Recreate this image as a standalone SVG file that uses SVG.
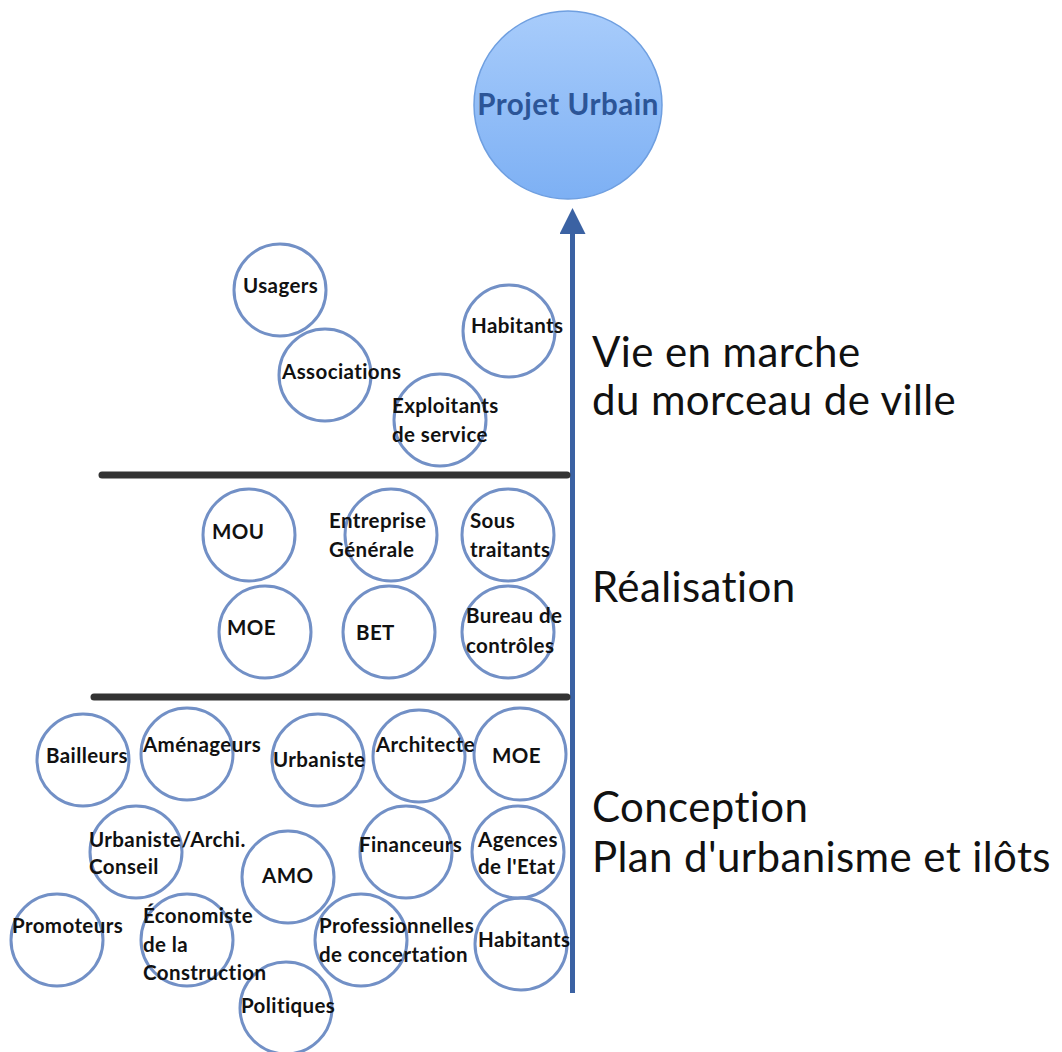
<svg xmlns="http://www.w3.org/2000/svg" width="1062" height="1052" viewBox="0 0 1062 1052">
<style>
text{font-variant-ligatures:none;font-feature-settings:"liga" 0,"clig" 0}
.c{fill:none;stroke:#7290c6;stroke-width:3}
.t{font-family:Lato,"Open Sans","Liberation Sans",sans-serif;font-weight:bold;font-size:20.5px;letter-spacing:0.4px;fill:#111}
.ph{font-family:Lato,"Open Sans","Liberation Sans",sans-serif;font-size:42px;letter-spacing:0.4px;fill:#111}
.sep{stroke:#333;stroke-width:7;stroke-linecap:round}
</style>
<defs>
<linearGradient id="g" x1="0" y1="0" x2="0" y2="1">
<stop offset="0" stop-color="#a8ccfb"/>
<stop offset="1" stop-color="#7db0f4"/>
</linearGradient>
<marker id="ah" markerWidth="26" markerHeight="26" refX="13" refY="13" viewBox="0 0 26 26" markerUnits="userSpaceOnUse" orient="auto">
<path d="M0,0 L26,13 L0,26 Z" fill="#3b62a3"/>
</marker>
</defs>
<rect width="1062" height="1052" fill="#fff"/>
<g id="connectors">
<line x1="572.5" y1="993" x2="572.5" y2="221" stroke="#3b62a3" stroke-width="5" marker-end="url(#ah)"/>
<line class="sep" x1="102" y1="475" x2="567" y2="475"/>
<line class="sep" x1="94" y1="697" x2="567" y2="697"/>
</g>
<g id="projet-urbain">
<circle cx="568" cy="105" r="94" fill="url(#g)" stroke="#6f9fe0" stroke-width="1.5"/>
<text x="568" y="115" text-anchor="middle" style="font-family:Lato,'Open Sans','Liberation Sans',sans-serif;font-weight:bold;font-size:29.5px;letter-spacing:0.5px;fill:#2c5597">Projet Urbain</text>
</g>
<g id="phase-vie"><text class="ph" x="592" y="367">Vie en marche</text><text class="ph" x="592" y="415">du morceau de ville</text></g>
<g id="phase-realisation"><text class="ph" x="592" y="602">Réalisation</text></g>
<g id="phase-conception"><text class="ph" x="592" y="822">Conception</text><text class="ph" x="592" y="872">Plan d'urbanisme et ilôts</text></g>

<g id="usagers"><circle class="c" cx="280" cy="290" r="46"/><text class="t" x="243" y="293">Usagers</text></g>
<g id="exploitants"><circle class="c" cx="440" cy="420" r="46"/><text class="t" x="392" y="413">Exploitants</text><text class="t" x="392" y="442">de service</text></g>
<g id="associations"><circle class="c" cx="325" cy="375" r="46"/><text class="t" x="282" y="379">Associations</text></g>
<g id="habitants-vie"><circle class="c" cx="509" cy="331" r="46"/><text class="t" x="471" y="333">Habitants</text></g>

<g id="mou"><circle class="c" cx="249" cy="535" r="46"/><text class="t" x="212" y="539">MOU</text></g>
<g id="entreprise"><circle class="c" cx="391" cy="535" r="46"/><text class="t" x="329" y="528">Entreprise</text><text class="t" x="329" y="557">Générale</text></g>
<g id="sous-traitants"><circle class="c" cx="508" cy="535" r="46"/><text class="t" x="470" y="528">Sous</text><text class="t" x="470" y="557">traitants</text></g>
<g id="moe-realisation"><circle class="c" cx="265" cy="632" r="46"/><text class="t" x="227" y="635">MOE</text></g>
<g id="bet"><circle class="c" cx="389" cy="632" r="46"/><text class="t" x="356" y="640">BET</text></g>
<g id="bureau-controles"><circle class="c" cx="508" cy="632" r="46"/><text class="t" x="466" y="623">Bureau de</text><text class="t" x="466" y="653">contrôles</text></g>

<g id="bailleurs"><circle class="c" cx="83" cy="760" r="46"/><text class="t" x="46" y="763">Bailleurs</text></g>
<g id="amenageurs"><circle class="c" cx="187" cy="754" r="46"/><text class="t" x="143" y="752">Aménageurs</text></g>
<g id="urbaniste"><circle class="c" cx="318" cy="760" r="46"/><text class="t" x="273" y="767">Urbaniste</text></g>
<g id="moe-conception"><circle class="c" cx="520" cy="754" r="46"/><text class="t" x="492" y="763">MOE</text></g>
<g id="architecte"><circle class="c" cx="419" cy="756" r="46"/><text class="t" x="376" y="752">Architecte</text></g>
<g id="amo"><circle class="c" cx="288" cy="877" r="46"/><text class="t" x="262" y="883">AMO</text></g>
<g id="urbaniste-conseil"><circle class="c" cx="136" cy="852" r="46"/><text class="t" x="89" y="847">Urbaniste/Archi.</text><text class="t" x="89" y="874">Conseil</text></g>
<g id="financeurs"><circle class="c" cx="406" cy="852" r="46"/><text class="t" x="359" y="852">Financeurs</text></g>
<g id="agences-etat"><circle class="c" cx="518" cy="852" r="46"/><text class="t" x="478" y="847">Agences</text><text class="t" x="478" y="874">de l'Etat</text></g>
<g id="promoteurs"><circle class="c" cx="57" cy="940" r="46"/><text class="t" x="12" y="933">Promoteurs</text></g>
<g id="politiques"><circle class="c" cx="286" cy="1008" r="46"/><text class="t" x="241" y="1013">Politiques</text></g>
<g id="economiste"><circle class="c" cx="187" cy="940" r="46"/><text class="t" x="143" y="923">Économiste</text><text class="t" x="143" y="952">de la</text><text class="t" x="143" y="980">Construction</text></g>
<g id="habitants-conception"><circle class="c" cx="521" cy="944" r="46"/><text class="t" x="478" y="947">Habitants</text></g>
<g id="professionnelles"><circle class="c" cx="361" cy="940" r="46"/><text class="t" x="319" y="933">Professionnelles</text><text class="t" x="319" y="962">de concertation</text></g>
</svg>
